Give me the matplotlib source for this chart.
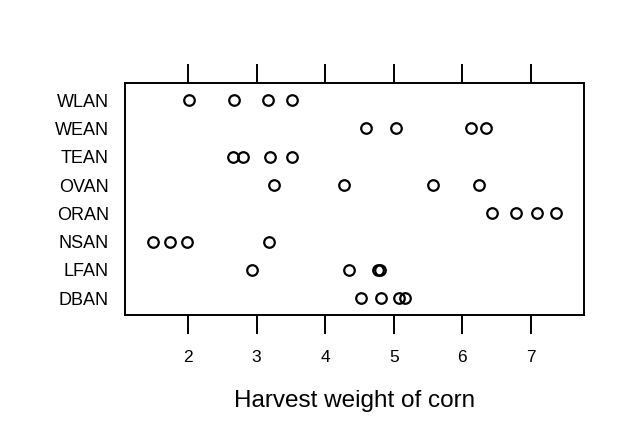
import numpy as np
import matplotlib
matplotlib.use("Agg")
import matplotlib.pyplot as plt

plt.rcParams['font.family'] = ['Liberation Sans', 'DejaVu Sans']

# sites, bottom to top as drawn
sites = ["DBAN", "LFAN", "NSAN", "ORAN", "OVAN", "TEAN", "WEAN", "WLAN"]

# harvest weights, one list per site
harvwt = {
    "DBAN": [4.52, 4.81, 5.08, 5.17],
    "LFAN": [2.93, 4.34, 4.77, 4.80],
    "NSAN": [1.49, 1.73, 1.98, 3.18],
    "ORAN": [6.44, 6.79, 7.09, 7.37],
    "OVAN": [3.25, 4.28, 5.57, 6.24],
    "TEAN": [2.65, 2.80, 3.19, 3.51],
    "WEAN": [4.60, 5.04, 6.13, 6.34],
    "WLAN": [2.02, 2.67, 3.16, 3.52],
}
xticks = [2, 3, 4, 5, 6, 7]

fig = plt.figure(figsize=(6.4, 4.43), dpi=100)
ax = fig.add_axes([0.196, 0.289, 0.717, 0.523])

for i, s in enumerate(sites):
    vals = harvwt[s]
    ax.plot(vals, [i + 1] * len(vals), linestyle='none', marker='o',
            markersize=7.6, markerfacecolor='none', markeredgecolor='black',
            markeredgewidth=1.6)

ax.set_xlim(1.086, 7.78)
ax.set_ylim(0.4, 8.6)
ax.set_yticks(range(1, len(sites) + 1))
ax.set_yticklabels(sites, fontsize=13)
ax.set_xticks(xticks)
ax.set_xticklabels([str(t) for t in xticks], fontsize=12.5)
ax.tick_params(axis='y', length=0, pad=12)
ax.tick_params(axis='x', which='both', direction='out', length=14, width=1.4,
               top=True, labeltop=False, pad=11)
for sp in ax.spines.values():
    sp.set_linewidth(1.4)

ax.set_xlabel("Harvest weight of corn", fontsize=17.5, labelpad=18)

fig.savefig("out.png", dpi=100)
